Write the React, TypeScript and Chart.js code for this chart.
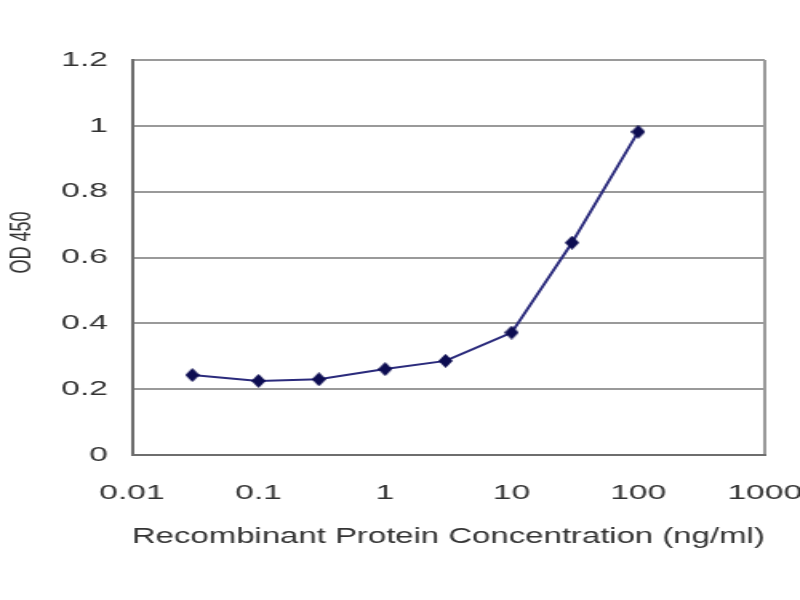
import { useEffect, useRef } from 'react'
import { Chart, registerables } from 'chart.js'

Chart.register(...registerables)

// concentration (ng/ml) and measured OD 450
const concentrations = [0.03, 0.1, 0.3, 1, 3, 10, 30, 100]
const odValues = [0.243, 0.225, 0.23, 0.261, 0.286, 0.372, 0.645, 0.982]
const xTicks = [0.01, 0.1, 1, 10, 100, 1000]

// the picture is horizontally stretched, so draw narrow and scale with css
const CANVAS_W = 500
const CANVAS_H = 600

const makeDiamond = () => {
  const c = document.createElement('canvas')
  c.width = 9
  c.height = 14
  const g = c.getContext('2d')!
  g.fillStyle = '#0d0d52'
  g.beginPath()
  g.moveTo(4.5, 0)
  g.lineTo(9, 7)
  g.lineTo(4.5, 14)
  g.lineTo(0, 7)
  g.closePath()
  g.fill()
  return c
}

const App = () => {
  const chartRef = useRef<HTMLCanvasElement>(null)
  const chartInstance = useRef<Chart | null>(null)

  useEffect(() => {
    if (!chartRef.current) return
    if (chartInstance.current) chartInstance.current.destroy()

    const diamond = makeDiamond()
    const font = "'Liberation Sans', Arial, sans-serif"

    chartInstance.current = new Chart(chartRef.current, {
      type: 'line',
      data: {
        datasets: [
          {
            data: concentrations.map((x, i) => ({ x, y: odValues[i] })),
            borderColor: '#2b2b7c',
            borderWidth: 2,
            pointStyle: diamond as any,
            pointRadius: 7,
            tension: 0,
          },
        ],
      },
      options: {
        responsive: false,
        devicePixelRatio: 1,
        animation: false,
        layout: { padding: { top: 60, right: 22, bottom: 0, left: 0 } },
        plugins: {
          legend: { display: false },
          tooltip: { enabled: false },
        },
        scales: {
          x: {
            type: 'logarithmic',
            min: 0.01,
            max: 1000,
            afterBuildTicks: (scale: any) => {
              scale.ticks = xTicks.map(v => ({ value: v }))
            },
            afterFit: (scale: any) => {
              scale.height = 145
              scale.paddingLeft = 0
              scale.paddingRight = 0
            },
            ticks: {
              autoSkip: false,
              maxRotation: 0,
              padding: 26,
              color: '#333333',
              font: { family: font, size: 21 },
              callback: (v: any) => String(v),
            },
            grid: {
              drawTicks: false,
              lineWidth: 2,
              color: (ctx: any) => (ctx.tick && ctx.tick.value === 1000 ? '#9a9a9a' : 'transparent'),
            },
            border: { color: '#6e6e6e', width: 2 },
            title: {
              display: true,
              text: 'Recombinant Protein Concentration (ng/ml)',
              color: '#333333',
              font: { family: font, size: 22.5 },
              padding: { top: 0, bottom: 50 },
            },
          },
          y: {
            min: 0,
            max: 1.2,
            afterFit: (scale: any) => {
              scale.width = 82.5
            },
            ticks: {
              stepSize: 0.2,
              padding: 15,
              color: '#333333',
              font: { family: font, size: 21 },
              callback: (v: any) => String(Math.round(Number(v) * 10) / 10),
            },
            grid: {
              drawTicks: false,
              lineWidth: 2,
              color: '#9a9a9a',
            },
            border: { color: '#6e6e6e', width: 2 },
            title: {
              display: true,
              text: '      OD 450',
              color: '#333333',
              font: { family: font, size: 18 },
              padding: { top: 3, bottom: 0 },
            },
          },
        },
      },
    })

    return () => {
      if (chartInstance.current) {
        chartInstance.current.destroy()
        chartInstance.current = null
      }
    }
  }, [])

  return (
    <div style={{ position: 'fixed', left: 0, top: 0, width: 800, height: 600, background: '#fff' }}>
      <canvas
        ref={chartRef}
        width={CANVAS_W}
        height={CANVAS_H}
        style={{ width: '800px', height: '600px', display: 'block' }}
      ></canvas>
    </div>
  )
}

export default App
